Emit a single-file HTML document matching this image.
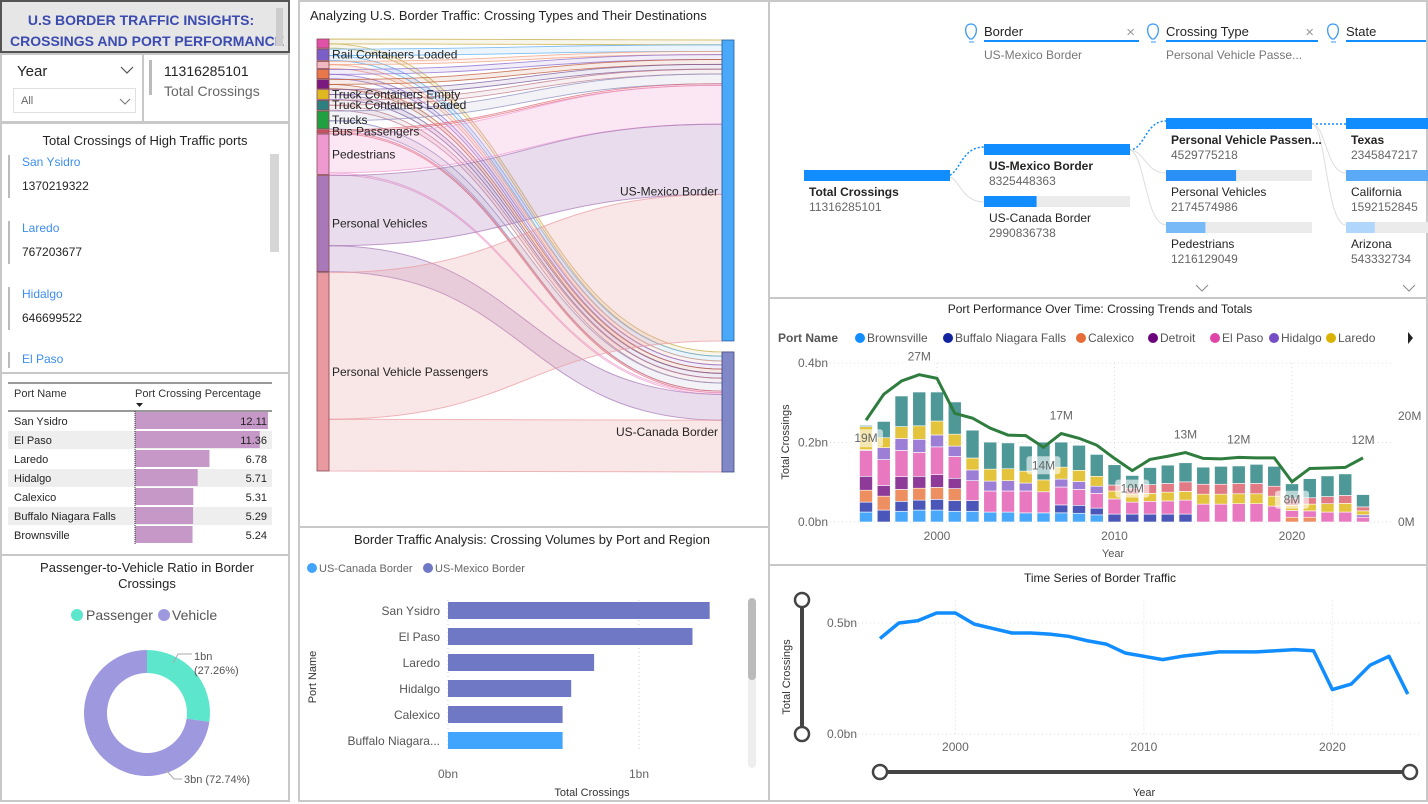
<!DOCTYPE html>
<html><head><meta charset="utf-8"><style>
body{margin:0;width:1428px;height:802px;position:relative;background:#fff;font-family:"Liberation Sans",sans-serif;overflow:hidden;color:#252423}
.p{position:absolute;box-sizing:border-box;border:2px solid #c8c8c8;background:#fff}
.t{position:absolute;white-space:nowrap}
svg{position:absolute;left:0;top:0}
</style></head><body>

<div class="p" style="left:0;top:0;width:290px;height:53px;background:#e6e6e6;border-color:#555">
 <div class="t" style="left:8px;top:8px;font-weight:bold;font-size:14px;color:#3b4bb0;line-height:21px;text-align:center;width:262px">U.S BORDER TRAFFIC INSIGHTS:<br>CROSSINGS AND PORT PERFORMANCE</div>
 <div style="position:absolute;left:274px;top:6px;width:7px;height:38px;background:#ccc"></div>
</div>

<div class="p" style="left:0;top:53px;width:144px;height:70px">
 <div class="t" style="left:15px;top:8px;font-size:15px">Year</div>
 <svg width="140" height="66" style="pointer-events:none"><path d="M119,12 L125,18 L131,12" fill="none" stroke="#555" stroke-width="1.2"/><path d="M118,44 L123,49 L128,44" fill="none" stroke="#777" stroke-width="1.1"/></svg>
 <div style="position:absolute;left:11px;top:33px;width:123px;height:25px;border:1px solid #e0e0e0;box-sizing:border-box">
  <div class="t" style="left:7px;top:6px;font-size:11px;color:#666">All</div>
 </div>
</div>
<div class="p" style="left:142px;top:53px;width:148px;height:70px">
 <div style="position:absolute;left:5px;top:5px;width:3px;height:35px;background:#bbb"></div>
 <div class="t" style="left:20px;top:8px;font-size:14px">11316285101</div>
 <div class="t" style="left:20px;top:28px;font-size:14px;color:#666">Total Crossings</div>
</div>

<div class="p" style="left:0;top:122px;width:290px;height:252px">
 <div class="t" style="left:0;top:9px;width:286px;text-align:center;font-size:13px">Total Crossings of High Traffic ports</div>
 <div style="position:absolute;left:268px;top:30px;width:9px;height:98px;background:#d6d6d6"></div>
 <div style="position:absolute;left:6px;top:31px;width:2px;height:43px;background:#bbb"></div>
 <div class="t" style="left:20px;top:31px;font-size:12px;color:#3d8ef0">San Ysidro</div><div class="t" style="left:20px;top:55px;font-size:12px">1370219322</div>
 <div style="position:absolute;left:6px;top:97px;width:2px;height:43px;background:#bbb"></div>
 <div class="t" style="left:20px;top:97px;font-size:12px;color:#3d8ef0">Laredo</div><div class="t" style="left:20px;top:121px;font-size:12px">767203677</div>
 <div style="position:absolute;left:6px;top:163px;width:2px;height:43px;background:#bbb"></div>
 <div class="t" style="left:20px;top:163px;font-size:12px;color:#3d8ef0">Hidalgo</div><div class="t" style="left:20px;top:187px;font-size:12px">646699522</div>
 <div style="position:absolute;left:6px;top:228px;width:2px;height:16px;background:#bbb"></div>
 <div class="t" style="left:20px;top:228px;font-size:12px;color:#3d8ef0">El Paso</div>
</div>

<div class="p" style="left:0;top:372px;width:290px;height:184px">
 <svg width="290" height="184" id="tbl"></svg>
</div>

<div class="p" style="left:0;top:554px;width:290px;height:248px">
 <svg width="290" height="248" id="donut"></svg>
</div>

<div class="p" style="left:298px;top:0;width:472px;height:528px">
 <svg width="472" height="528" id="sankey"></svg>
</div>

<div class="p" style="left:298px;top:526px;width:472px;height:276px">
 <svg width="472" height="276" id="bars"></svg>
</div>

<div class="p" style="left:768px;top:0;width:660px;height:299px">
 <svg width="660" height="299" id="decomp"></svg>
</div>

<div class="p" style="left:768px;top:297px;width:660px;height:269px">
 <svg width="660" height="269" id="combo"></svg>
</div>

<div class="p" style="left:768px;top:564px;width:660px;height:238px">
 <svg width="660" height="238" id="ts"></svg>
</div>

<script>
const NS="http://www.w3.org/2000/svg";
function mk(par,tag,at,txt){const e=document.createElementNS(NS,tag);for(const k in at)e.setAttribute(k,at[k]);if(txt!==undefined)e.textContent=txt;par.appendChild(e);return e;}
const F="Liberation Sans, sans-serif";

// ---------- Table ----------
const tblPorts=["San Ysidro","El Paso","Laredo","Hidalgo","Calexico","Buffalo Niagara Falls","Brownsville"];
const tblPct=[12.11,11.36,6.78,5.71,5.31,5.29,5.24];
(function(){
 const s=document.getElementById('tbl');
 mk(s,'line',{x1:6,y1:9,x2:270,y2:9,stroke:'#333','stroke-width':1});
 let e=mk(s,'text',{x:12,y:23,'font-size':11,'font-family':F,fill:'#333'},'Port Name');
 
 e=mk(s,'text',{x:133,y:23,'font-size':11,'font-family':F,fill:'#333'},'Port Crossing Percentage');
 
 mk(s,'path',{d:'M134,29 L141,29 L137.5,33 Z',fill:'#222'});
 mk(s,'line',{x1:6,y1:37,x2:270,y2:37,stroke:'#333','stroke-width':1});
 const sc=v=>133+v/12.11*133;
 tblPorts.forEach((p,i)=>{
  const y=37+i*19;
  if(i%2==1){mk(s,'rect',{x:6,y:y+1,width:264,height:18,fill:'#eeeeee'});}
  const b=mk(s,'rect',{x:133,y:y+1,width:sc(tblPct[i])-133,height:17,fill:'#c598c8'});
  
  mk(s,'text',{x:12,y:y+14,'font-size':11,'font-family':F,fill:'#252423'},p);
  mk(s,'text',{x:265,y:y+14,'font-size':11,'font-family':F,fill:'#252423','text-anchor':'end'},tblPct[i].toFixed(2));
 });
 mk(s,'line',{x1:133,y1:37,x2:133,y2:171,stroke:'#333','stroke-width':1,'stroke-dasharray':'1,1'});
})();

// ---------- Donut ----------
const donutLabels=["Passenger","Vehicle"];
const donutValues=[27.26,72.74];
const donutText=["1bn","3bn"];
(function(){
 const s=document.getElementById('donut');
 mk(s,'text',{x:145,y:16,'font-size':13,'font-family':F,fill:'#252423','text-anchor':'middle'},'Passenger-to-Vehicle Ratio in Border');
 mk(s,'text',{x:145,y:32,'font-size':13,'font-family':F,fill:'#252423','text-anchor':'middle'},'Crossings');
 const cols=['#5ce6cc','#9e98df'];
 mk(s,'circle',{cx:75,cy:59,r:6,fill:cols[0]});mk(s,'text',{x:84,y:64,'font-size':14,'font-family':F,fill:'#555'},'Passenger');
 mk(s,'circle',{cx:162,cy:59,r:6,fill:cols[1]});mk(s,'text',{x:170,y:64,'font-size':14,'font-family':F,fill:'#555'},'Vehicle');
 const cx=145,cy=157,R=63,r=40,tot=donutValues.reduce((a,b)=>a+b,0);
 let a0=-Math.PI/2;
 donutValues.forEach((v,i)=>{
  const a1=a0+v/tot*2*Math.PI,lg=(a1-a0)>Math.PI?1:0;
  const p=(a,rr)=>[cx+rr*Math.cos(a),cy+rr*Math.sin(a)];
  const [x0,y0]=p(a0,R),[x1,y1]=p(a1,R),[x2,y2]=p(a1,r),[x3,y3]=p(a0,r);
  const e=mk(s,'path',{d:`M${x0},${y0} A${R},${R} 0 ${lg} 1 ${x1},${y1} L${x2},${y2} A${r},${r} 0 ${lg} 0 ${x3},${y3} Z`,fill:cols[i]});
  
  a0=a1;
 });
 mk(s,'polyline',{points:'171,107 176,98 190,98',fill:'none',stroke:'#aaa'});
 mk(s,'text',{x:192,y:104,'font-size':11,'font-family':F,fill:'#555'},donutText[0]);
 mk(s,'text',{x:192,y:118,'font-size':11,'font-family':F,fill:'#555'},'('+donutValues[0].toFixed(2)+'%)');
 mk(s,'polyline',{points:'164,214 172,223 180,223',fill:'none',stroke:'#aaa'});
 mk(s,'text',{x:182,y:227,'font-size':11,'font-family':F,fill:'#555'},donutText[1]+' ('+donutValues[1].toFixed(2)+'%)');
})();

// ---------- Sankey ----------
const sankeyTypes=["Rail Containers Empty","Rail Containers Loaded","Trains","Train Passengers","Buses","Truck Containers Empty","Truck Containers Loaded","Trucks","Bus Passengers","Pedestrians","Personal Vehicles","Personal Vehicle Passengers"];
const sankeyShowLabel=[0,1,0,0,0,1,1,1,1,1,1,1];
const sankeyToMexico=[0.15,0.2,0.1,0.15,0.15,0.15,0.15,0.3,0.05,1.2,2.17,4.53];
const sankeyToCanada=[0.13,0.15,0.12,0.13,0.13,0.15,0.15,0.25,0.05,0.05,0.8,1.6];
(function(){
 const s=document.getElementById('sankey');
 mk(s,'text',{x:10,y:18,'font-size':13,'font-family':F,fill:'#252423'},'Analyzing U.S. Border Traffic: Crossing Types and Their Destinations');
 const cols=['#e052a8','#7b5fc8','#f0b8c0','#e8774a','#7a1a80','#e0b820','#2e8080','#20a040','#d05060','#ee9ad0','#a878b8','#e89aa0'];
 const lcols=['#c8b050','#60b0f0','#f0a080','#9070d0','#c06040','#8060a0','#c08090','#9090c0','#e07080','#f0a0d0','#e070c0','#e08080'];
 const tot=sankeyToMexico.reduce((a,b)=>a+b,0)+sankeyToCanada.reduce((a,b)=>a+b,0);
 const avail=432,gap=1,k=(avail-gap*11)/tot;
 const LX=17,RX=422,NW=12;
 let y=37;const ny=[];
 sankeyTypes.forEach((t,i)=>{const h=(sankeyToMexico[i]+sankeyToCanada[i])*k;ny.push([y,h]);y+=h+gap;});
 const mexH=sankeyToMexico.reduce((a,b)=>a+b,0)*k, canH=sankeyToCanada.reduce((a,b)=>a+b,0)*k;
 const mexY=38,canY=mexY+mexH+11;
 let my=mexY,cy=canY;
 const links=[];
 sankeyTypes.forEach((t,i)=>{
  const [sy]=ny[i];const hm=sankeyToMexico[i]*k,hc=sankeyToCanada[i]*k;
  links.push([sy,hm,my,i]);my+=hm;
  links.push([sy+hm,hc,cy,i]);cy+=hc;
 });
 const x0=LX+NW,x1=RX,xm=(x0+x1)/2;
 links.forEach(([sy,h,ty,i])=>{
  const thin=h<12;
  const d=`M${x0},${sy} C${xm},${sy} ${xm},${ty} ${x1},${ty} L${x1},${ty+h} C${xm},${ty+h} ${xm},${sy+h} ${x0},${sy+h} Z`;
  const e=mk(s,'path',{d,fill:thin?lcols[i]:cols[i],'fill-opacity':thin?0.12:0.25,stroke:thin?lcols[i]:cols[i],'stroke-opacity':thin?0.8:0.7,'stroke-width':thin?0.9:1});
  
 });
 sankeyTypes.forEach((t,i)=>{
  const [yy,h]=ny[i];
  const e=mk(s,'rect',{x:LX,y:yy,width:NW,height:h,fill:cols[i],stroke:'#8a4a55','stroke-width':0.8});
  
 });
 sankeyTypes.forEach((t,i)=>{if(sankeyShowLabel[i]){const [yy,h]=ny[i];mk(s,'text',{x:LX+15,y:yy+h/2+4,'font-size':12,'font-family':F,fill:'#252423'},t);}});
 let e=mk(s,'rect',{x:RX,y:mexY,width:NW,height:mexH,fill:'#4aa8f8',stroke:'#2060a0','stroke-width':0.8});
 
 e=mk(s,'rect',{x:RX,y:canY,width:NW,height:canH,fill:'#8088c8',stroke:'#404880','stroke-width':0.8});
 
 mk(s,'text',{x:RX-4,y:mexY+mexH/2+5,'font-size':12,'font-family':F,fill:'#252423','text-anchor':'end'},'US-Mexico Border');
 mk(s,'text',{x:RX-4,y:434,'font-size':12,'font-family':F,fill:'#252423','text-anchor':'end'},'US-Canada Border');
})();

// ---------- Port bars ----------
const barPorts=["San Ysidro","El Paso","Laredo","Hidalgo","Calexico","Buffalo Niagara..."];
const barValues=[1.37,1.28,0.765,0.645,0.6,0.6];
const barBorder=["MX","MX","MX","MX","MX","CA"];
(function(){
 const s=document.getElementById('bars');
 mk(s,'text',{x:232,y:16,'font-size':13,'font-family':F,fill:'#252423','text-anchor':'middle'},'Border Traffic Analysis: Crossing Volumes by Port and Region');
 mk(s,'circle',{cx:12,cy:40,r:5,fill:'#41a5fd'});mk(s,'text',{x:19,y:44,'font-size':11,'font-family':F,fill:'#666'},'US-Canada Border');
 mk(s,'circle',{cx:128,cy:40,r:5,fill:'#6f78c4'});mk(s,'text',{x:135,y:44,'font-size':11,'font-family':F,fill:'#666'},'US-Mexico Border');
 const X=v=>148+v*191;
 [0,1].forEach(v=>{mk(s,'line',{x1:X(v),y1:72,x2:X(v),y2:222,stroke:'#ccc','stroke-dasharray':'1,3'});
  mk(s,'text',{x:X(v),y:250,'font-size':12,'font-family':F,fill:'#666','text-anchor':'middle'},v+'bn');});
 barPorts.forEach((p,i)=>{
  const y=74+i*26;
  const e=mk(s,'rect',{x:X(0),y:y,width:X(barValues[i])-X(0),height:17,fill:barBorder[i]=="CA"?'#41a5fd':'#6f78c4'});
  
  mk(s,'text',{x:140,y:y+13,'font-size':12,'font-family':F,fill:'#555','text-anchor':'end'},p);
 });
 mk(s,'text',{x:0,y:0,'font-size':11,'font-family':F,fill:'#333','text-anchor':'middle',transform:'translate(16,149) rotate(-90)'},'Port Name');
 mk(s,'text',{x:292,y:268,'font-size':11,'font-family':F,fill:'#333','text-anchor':'middle'},'Total Crossings');
 mk(s,'rect',{x:448,y:70,width:8,height:170,rx:4,fill:'#eee'});
 const sb=mk(s,'rect',{x:448,y:70,width:8,height:82,rx:4,fill:'#bbb'});
 
})();

// ---------- Decomposition tree ----------
(function(){
 const s=document.getElementById('decomp');
 const B='#118dff';
 function bulb(x,y){mk(s,'path',{d:`M${x},${y+11} C${x-6},${y+6} ${x-6},${y-4} ${x+1},${y-4} C${x+8},${y-4} ${x+8},${y+6} ${x+2},${y+11} Z`,fill:'none',stroke:'#3d9af5','stroke-width':1.3});mk(s,'line',{x1:x-1,y1:y+14,x2:x+4,y2:y+14,stroke:'#3d9af5'});}
 const hdr=[[214,'Border',155,'US-Mexico Border',true],[396,'Crossing Type',152,'Personal Vehicle Passe...',true],[576,'State',80,'',false]];
 hdr.forEach(([x,t,w,sub,cl])=>{bulb(x-14,26);
  const e=mk(s,'text',{x:x,y:34,'font-size':13,'font-family':F,fill:'#252423'},t);
  
  mk(s,'rect',{x:x,y:38,width:w,height:2,fill:B});
  if(cl){mk(s,'text',{x:x+w-4,y:35,'font-size':15,'font-family':F,fill:'#999','text-anchor':'end'},'×');}
  if(sub)mk(s,'text',{x:x,y:57,'font-size':12,'font-family':F,fill:'#777'},sub);});
 function node(x,y,w,frac,col,lab,val,bold){
  mk(s,'rect',{x:x,y:y,width:w,height:11,fill:'#ebebeb'});
  const e=mk(s,'rect',{x:x,y:y,width:w*frac,height:11,fill:col});
  
  mk(s,'text',{x:x+5,y:y+26,'font-size':12,'font-family':F,fill:'#252423','font-weight':bold?'bold':'normal'},lab);
  mk(s,'text',{x:x+5,y:y+41,'font-size':12,'font-family':F,fill:'#666'},val);}
 mk(s,'path',{d:'M176,174 C190,174 190,145 214,145',fill:'none',stroke:B,'stroke-dasharray':'2,2','stroke-width':1.5});
 mk(s,'path',{d:'M176,174 C190,174 190,200 214,200',fill:'none',stroke:'#ddd'});
 mk(s,'path',{d:'M359,148 C375,148 375,119 396,119',fill:'none',stroke:B,'stroke-dasharray':'2,2','stroke-width':1.5});
 mk(s,'path',{d:'M359,148 C375,148 375,171 396,171',fill:'none',stroke:'#ddd'});
 mk(s,'path',{d:'M359,148 C375,148 375,223 396,223',fill:'none',stroke:'#ddd'});
 mk(s,'path',{d:'M542,122 L576,122',fill:'none',stroke:B,'stroke-dasharray':'2,2','stroke-width':1.5});
 mk(s,'path',{d:'M542,122 C556,122 556,171 576,171',fill:'none',stroke:'#ddd'});
 mk(s,'path',{d:'M542,122 C556,122 556,223 576,223',fill:'none',stroke:'#ddd'});
 node(34,168,146,1,B,'Total Crossings','11316285101',true);
 node(214,142,146,1,B,'US-Mexico Border','8325448363',true);
 node(214,194,146,0.36,B,'US-Canada Border','2990836738',false);
 node(396,116,146,1,B,'Personal Vehicle Passen...','4529775218',true);
 node(396,168,146,0.48,'#2b90f5','Personal Vehicles','2174574986',false);
 node(396,220,146,0.27,'#78baf8','Pedestrians','1216129049',false);
 node(576,116,82,1,B,'Texas','2345847217',true);
 node(576,168,82,1,'#5aaaf7','California','1592152845',false);
 node(576,220,82,0.35,'#b0d6fb','Arizona','543332734',false);
 mk(s,'path',{d:'M426,283 L432,289 L438,283',fill:'none',stroke:'#888'});
 mk(s,'path',{d:'M633,283 L639,289 L645,283',fill:'none',stroke:'#888'});
})();

// ---------- Combo chart ----------
const comboYears=[1996,1997,1998,1999,2000,2001,2002,2003,2004,2005,2006,2007,2008,2009,2010,2011,2012,2013,2014,2015,2016,2017,2018,2019,2020,2021,2022,2023,2024];
const portNames=["Brownsville","Buffalo Niagara Falls","Calexico","Detroit","El Paso","Hidalgo","Laredo","Nogales","San Ysidro"];
const sBrownsville=[0.025,0,0.027,0.03,0.03,0.027,0.027,0.025,0.025,0.023,0.023,0.023,0.022,0.018,0,0,0,0,0,0,0,0,0,0,0,0,0,0,0];
const sBuffalo=[0.025,0.03,0.025,0.025,0.027,0.027,0.027,0,0,0,0,0.02,0.02,0.017,0.02,0.02,0.02,0.02,0.02,0,0,0,0,0,0,0,0,0,0];
const sCalexico=[0.03,0.035,0.03,0.03,0.03,0.03,0,0,0,0,0,0,0,0,0,0,0,0,0,0,0,0,0,0,0.012,0.012,0,0,0];
const sDetroit=[0.035,0.027,0.032,0.03,0.032,0.026,0,0,0,0,0,0,0,0,0,0,0,0,0,0,0,0,0,0,0,0,0,0,0];
const sElPaso=[0.065,0.065,0.066,0.06,0.07,0.055,0.05,0.053,0.053,0.055,0.053,0.045,0.04,0.037,0.038,0.03,0.032,0.033,0.035,0.045,0.045,0.046,0.046,0.04,0.017,0.016,0.025,0.025,0.012];
const sHidalgo=[0.002,0.03,0.03,0.033,0.03,0.026,0.027,0.025,0.026,0.02,0,0.02,0.02,0.018,0,0,0,0,0,0,0,0,0,0,0,0,0,0,0.006];
const sLaredo=[0.058,0.025,0.03,0.034,0.035,0.03,0.03,0.03,0.03,0.03,0.03,0.03,0.028,0.025,0.02,0.02,0.02,0.022,0.022,0.025,0.025,0.025,0.025,0.025,0.013,0.017,0.021,0.022,0.01];
const sNogales=[0,0,0,0,0,0,0,0,0,0,0,0,0,0,0.015,0.015,0.022,0.022,0.024,0.025,0.025,0.026,0.026,0.025,0.018,0.016,0.018,0.02,0.01];
const sSanYsidro=[0.003,0.041,0.077,0.085,0.073,0.081,0.07,0.068,0.065,0.063,0.095,0.063,0.063,0.055,0.051,0.032,0.043,0.046,0.048,0.043,0.045,0.044,0.048,0.05,0.036,0.048,0.052,0.054,0.031];
const lineValues=[19.2,24.1,26.6,27.8,27.1,20.5,19.6,17.7,16.4,16.3,14.1,16.7,15.8,14.5,12,9.7,11.8,12.4,13.1,12,11.9,12.2,12.1,12.1,7.6,10.1,10.2,10.3,12.1];
const lineLabels=[[1996,"19M"],[1999,"27M"],[2006,"14M"],[2007,"17M"],[2011,"10M"],[2014,"13M"],[2017,"12M"],[2020,"8M"],[2024,"12M"]];
const yTicksL=[0,0.2,0.4],yTicksR=[0,20],xTicks=[2000,2010,2020];
(function(){
 const s=document.getElementById('combo');
 const ox=768,oy=297;
 mk(s,'text',{x:330,y:14,'font-size':12,'font-family':F,fill:'#252423','text-anchor':'middle'},'Port Performance Over Time: Crossing Trends and Totals');
 mk(s,'text',{x:8,y:43,'font-size':12,'font-family':F,fill:'#555','font-weight':'bold'},'Port Name');
 const lc=['#118dff','#12239e','#e66c37','#6b007b','#e044a7','#744ec2','#d9b300'];
 const lx=[84,172,305,377,439,498,555];
 portNames.slice(0,7).forEach((p,i)=>{mk(s,'circle',{cx:lx[i]+6,cy:39,r:5,fill:lc[i]});
  const e=mk(s,'text',{x:lx[i]+13,y:43,'font-size':12,'font-family':F,fill:'#555'},p);});
 mk(s,'path',{d:'M638,33 L643,39 L638,45 Z',fill:'#222'});
 const X=yr=>864-ox+(yr-1996)*17.75;
 const Y=v=>520-oy-v*397.5;
 const YR=v=>520-oy-v*5.3;
 yTicksL.forEach(v=>{mk(s,'line',{x1:60,y1:Y(v),x2:624,y2:Y(v),stroke:'#ddd','stroke-dasharray':'1,3'});
  mk(s,'text',{x:58,y:Y(v)+4,'font-size':12,'font-family':F,fill:'#666','text-anchor':'end'},v.toFixed(1)+'bn');});
 yTicksR.forEach(v=>{mk(s,'text',{x:628,y:YR(v)+4,'font-size':12,'font-family':F,fill:'#666'},v+'M');});
 xTicks.forEach(v=>{mk(s,'line',{x1:X(v),y1:Y(0.4),x2:X(v),y2:Y(0),stroke:'#ddd','stroke-dasharray':'1,3'});
  mk(s,'text',{x:X(v),y:241,'font-size':12,'font-family':F,fill:'#666','text-anchor':'middle'},v);});
 mk(s,'text',{x:343,y:258,'font-size':11,'font-family':F,fill:'#555','text-anchor':'middle'},'Year');
 mk(s,'text',{x:0,y:0,'font-size':11,'font-family':F,fill:'#333','text-anchor':'middle',transform:'translate(19,143) rotate(-90)'},'Total Crossings');
 const series=[sBrownsville,sBuffalo,sCalexico,sDetroit,sElPaso,sHidalgo,sLaredo,sNogales,sSanYsidro];
 const sc=['#4aa8fa','#4a56b8','#ee8f62','#8e3a98','#e878c0','#9c7ed6','#e4c43c','#e27a86','#4f9898'];
 comboYears.forEach((yr,j)=>{let acc=0;
  series.forEach((arr,i)=>{const v=arr[j];if(v<=0)return;
   const e=mk(s,'rect',{x:X(yr)-6.5,y:Y(acc+v),width:13,height:Y(acc)-Y(acc+v),fill:sc[i],stroke:'#fff','stroke-width':0.6});
   acc+=v;});});
 const pl=mk(s,'polyline',{points:comboYears.map((yr,j)=>X(yr)+','+YR(lineValues[j])).join(' '),fill:'none',stroke:'#2e7d3e','stroke-width':3});
 
 lineLabels.forEach(([yr,t])=>{const j=comboYears.indexOf(yr);let yy=YR(lineValues[j]);
  const up=(t=="17M"||t=="13M"||t=="12M"||t=="27M");const ty=up?yy-14:yy+22;
  if(!up||t=="27M"){mk(s,'rect',{x:X(yr)-17,y:ty-13,width:34,height:18,rx:3,fill:'#fff','fill-opacity':0.6});}
  mk(s,'text',{x:X(yr),y:ty,'font-size':12,'font-family':F,fill:'#666','text-anchor':'middle'},t);});
})();

// ---------- Time series ----------
const tsYears=[1996,1997,1998,1999,2000,2001,2002,2003,2004,2005,2006,2007,2008,2009,2010,2011,2012,2013,2014,2015,2016,2017,2018,2019,2020,2021,2022,2023,2024];
const tsValues=[0.43,0.5,0.51,0.545,0.545,0.495,0.475,0.455,0.455,0.45,0.44,0.42,0.405,0.365,0.35,0.335,0.35,0.36,0.37,0.37,0.37,0.375,0.38,0.375,0.2,0.225,0.31,0.35,0.18];
const tsYTicks=[0,0.5],tsXTicks=[2000,2010,2020];
(function(){
 const s=document.getElementById('ts');
 const ox=768,oy=564;
 mk(s,'text',{x:330,y:16,'font-size':12,'font-family':F,fill:'#252423','text-anchor':'middle'},'Time Series of Border Traffic');
 const X=yr=>878-ox+(yr-1996)*18.85;
 const Y=v=>732-oy-v*222;
 tsYTicks.forEach(v=>{mk(s,'line',{x1:76,y1:Y(v),x2:650,y2:Y(v),stroke:'#ddd','stroke-dasharray':'1,3'});
  mk(s,'text',{x:87,y:Y(v)+4,'font-size':12,'font-family':F,fill:'#666','text-anchor':'end'},v.toFixed(1)+'bn');});
 tsXTicks.forEach(v=>{mk(s,'line',{x1:X(v),y1:Y(0.6),x2:X(v),y2:Y(0),stroke:'#ddd','stroke-dasharray':'1,3'});
  mk(s,'text',{x:X(v),y:185,'font-size':12,'font-family':F,fill:'#666','text-anchor':'middle'},v);});
 const pl=mk(s,'polyline',{points:tsYears.map((yr,j)=>X(yr)+','+Y(tsValues[j])).join(' '),fill:'none',stroke:'#118dff','stroke-width':3.5,'stroke-linejoin':'round'});
 
 mk(s,'text',{x:0,y:0,'font-size':11,'font-family':F,fill:'#333','text-anchor':'middle',transform:'translate(20,111) rotate(-90)'},'Total Crossings');
 mk(s,'line',{x1:32,y1:34,x2:32,y2:168,stroke:'#444','stroke-width':4});
 let e=mk(s,'circle',{cx:32,cy:34,r:7,fill:'#fff',stroke:'#444','stroke-width':2.5});
 e=mk(s,'circle',{cx:32,cy:168,r:7,fill:'#fff',stroke:'#444','stroke-width':2.5});
 mk(s,'line',{x1:110,y1:206,x2:640,y2:206,stroke:'#444','stroke-width':4});
 e=mk(s,'circle',{cx:110,cy:206,r:7,fill:'#fff',stroke:'#444','stroke-width':2.5});
 e=mk(s,'circle',{cx:640,cy:206,r:7,fill:'#fff',stroke:'#444','stroke-width':2.5});
 mk(s,'text',{x:374,y:230,'font-size':11,'font-family':F,fill:'#333','text-anchor':'middle'},'Year');
})();
</script>
</body></html>
